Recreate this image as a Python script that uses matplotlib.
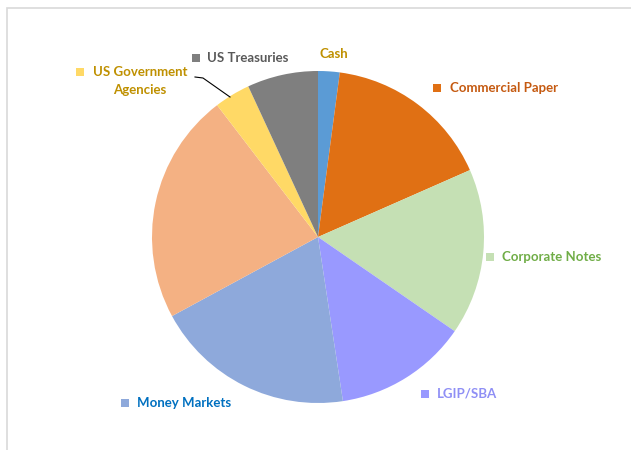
import matplotlib
matplotlib.use("Agg")
import matplotlib.pyplot as plt
from matplotlib.patches import Rectangle

# Portfolio allocation (% of total), clockwise from 12 o'clock
categories = ["Cash", "Commercial Paper", "Corporate Notes", "LGIP/SBA",
              "Money Markets", "", "US Government\nAgencies", "US Treasuries"]
shares = [2.1, 16.3, 16.2, 13.0, 19.5, 22.5, 3.5, 6.9]
slice_colors = ["#5B9BD5", "#E07014", "#C5E0B4", "#9999FF",
                "#8EA9DB", "#F4B183", "#FFD966", "#7F7F7F"]
label_colors = ["#BF9000", "#C55A11", "#70AD47", "#8F8FF5",
                "#0070C0", None, "#BF9000", "#595959"]

W, H = 631, 450
fig = plt.figure(figsize=(W / 100, H / 100), dpi=100)

# pie: centre (318, 237) px, radius 166 px
cx, cy, r = 318, 237, 166
ax = fig.add_axes([(cx - r) / W, (H - cy - r) / H, 2 * r / W, 2 * r / H])
ax.pie(shares, colors=slice_colors, startangle=90, counterclock=False,
       wedgeprops=dict(linewidth=0))
ax.set_xlim(-1, 1)
ax.set_ylim(-1, 1)
ax.set_aspect("equal")
ax.axis("off")

# light chart-area border (top/left visible)
fig.patches.append(Rectangle((7 / W, -0.1), 1.2, (H - 8) / H + 0.1,
                             transform=fig.transFigure, fill=False,
                             edgecolor="#D9D9D9", linewidth=1.2))

# label layout in pixel coords: (marker x or None, text x, text y, ha)
label_pos = {
    "Cash": (None, 334, 54, "center"),
    "Commercial Paper": (437, 450, 88, "left"),
    "Corporate Notes": (490, 502, 257, "left"),
    "LGIP/SBA": (425, 437, 394, "left"),
    "Money Markets": (125, 137, 403, "left"),
    "US Government\nAgencies": (80, 93, 72, "left"),
    "US Treasuries": (196, 207, 58, "left"),
}

font = dict(family=["Lato", "DejaVu Sans"], fontsize=9.5, fontweight="bold")
for name, col in zip(categories, label_colors):
    if not name:
        continue
    mx, tx, ty, ha = label_pos[name]
    idx = categories.index(name)
    if mx is not None:
        s = 8
        fig.patches.append(Rectangle(((mx - s / 2) / W, (H - ty - s / 2) / H),
                                     s / W, s / H, transform=fig.transFigure,
                                     color=slice_colors[idx], linewidth=0))
    if "\n" in name:
        first, second = name.split("\n")
        fig.text(tx / W, 1 - ty / H, first, color=col, ha="left", va="center", **font)
        fig.text(140 / W, 1 - (ty + 18) / H, second, color=col, ha="center",
                 va="center", **font)
    else:
        fig.text(tx / W, 1 - ty / H, name, color=col, ha=ha, va="center", **font)

# leader line for US Government Agencies
lx = [195, 203, 230]
ly = [77, 78, 97]
fig.add_artist(plt.Line2D([x / W for x in lx], [1 - y / H for y in ly],
                          transform=fig.transFigure, color="black", linewidth=0.8))

fig.savefig("out.png", dpi=100)
